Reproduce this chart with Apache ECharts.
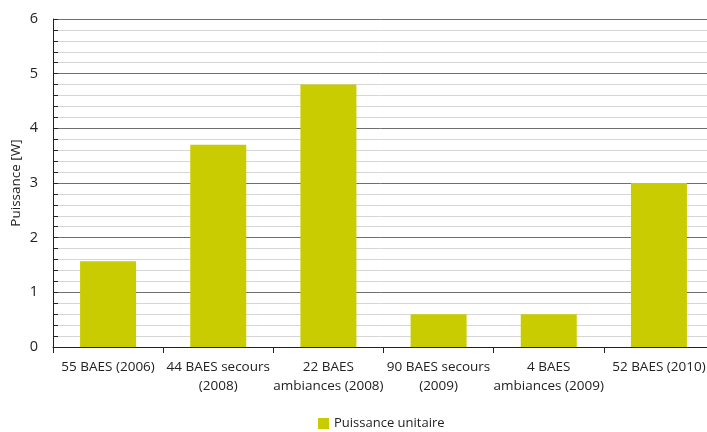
<!DOCTYPE html>
<html><head><meta charset="utf-8">
<script src="https://cdn.jsdelivr.net/npm/echarts@6/dist/echarts.min.js"></script>
<style>html,body{margin:0;padding:0;background:#fff}#c{width:707px;height:432px}</style>
</head><body><div id="c"></div>
<script>
var categories = ["55 BAES (2006)", "44 BAES secours\n(2008)", "22 BAES\nambiances (2008)", "90 BAES secours\n(2009)", "4 BAES\nambiances (2009)", "52 BAES (2010)"];
var puissance = [1.57, 3.7, 4.8, 0.6, 0.6, 3.0];
var yTicks = [0, 1, 2, 3, 4, 5, 6];
var seriesName = "Puissance unitaire";
var yName = "Puissance [W]";

var font = "'Open Sans', sans-serif";
var chart = echarts.init(document.getElementById('c'));
chart.setOption({
  animation: false,
  grid: { left: 53, top: 19, width: 661, height: 328, containLabel: false, outerBoundsMode: 'none' },
  legend: {
    bottom: -3, left: 313, itemWidth: 11, itemHeight: 11, itemGap: 5,
    icon: 'rect',
    textStyle: { fontFamily: font, fontSize: 13, color: '#222' },
    data: [seriesName]
  },
  xAxis: {
    type: 'category', data: categories,
    axisLine: { lineStyle: { color: '#222', width: 1 } },
    axisTick: { show: true, alignWithLabel: false, length: 6, lineStyle: { color: '#222' } },
    axisLabel: { interval: 0, fontFamily: font, fontSize: 13.5, color: '#222', margin: 11, lineHeight: 19 }
  },
  yAxis: {
    type: 'value', min: 0, max: 6, interval: 1,
    name: yName, nameLocation: 'middle', nameGap: 30, nameRotate: 90, nameMoveOverlap: false,
    nameTextStyle: { fontFamily: font, fontSize: 13.5, color: '#222' },
    axisLine: { show: true, lineStyle: { color: '#222', width: 1 } },
    axisTick: { show: true, inside: true, length: 5, lineStyle: { color: '#222' } },
    minorTick: { show: true, splitNumber: 5, length: 5, lineStyle: { color: '#222' } },
    axisLabel: { fontFamily: font, fontSize: 14.5, color: '#222', margin: 15,
      formatter: function (v) { return yTicks.indexOf(v) >= 0 ? String(v) : ''; } },
    splitLine: { show: true, lineStyle: { color: '#6f6f6f', width: 1 } },
    minorSplitLine: { show: true, lineStyle: { color: '#d6d6d6', width: 1 } }
  },
  series: [{
    name: seriesName, type: 'bar', data: puissance, barWidth: 56,
    itemStyle: { color: '#c8cc00' }
  }]
});
</script></body></html>
